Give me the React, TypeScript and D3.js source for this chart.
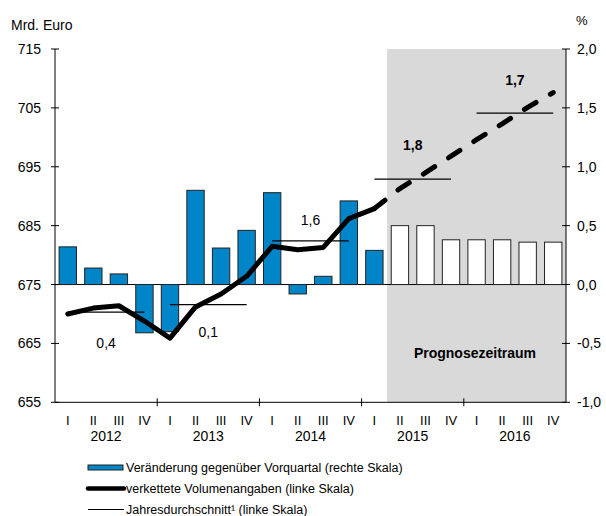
import * as d3 from "d3";
import React from "react";

// Quarter labels, years, and values
const years = ["2012", "2013", "2014", "2015", "2016"];
const quarterNames = ["I", "II", "III", "IV"];
const quarters = years.flatMap((y) => quarterNames.map((q) => `${q}-${y}`));

// Veränderung gegenüber Vorquartal (%), right scale
const changeQoQ = [
  0.32, 0.14, 0.09, -0.41, -0.4, 0.8, 0.31, 0.46, 0.78, -0.08, 0.07, 0.71,
  0.29, 0.5, 0.5, 0.38, 0.38, 0.38, 0.36, 0.36,
];
const forecastFrom = 13; // first forecast quarter (II 2015)

// verkettete Volumenangaben (Mrd. Euro), left scale
const volumeActual = [
  670.0, 671.0, 671.4, 668.8, 665.9, 671.2, 673.4, 676.4, 681.5, 680.9, 681.3,
  686.2, 687.9,
];
const volumeForecast = [687.9, 691.3, 694.0, 696.8, 699.6, 702.3, 705.1, 707.6];
const dashStart = 12; // I 2015

// Jahresdurchschnitt (left scale) and annual growth labels
const annualAvg = [670.3, 671.6, 682.4, 692.9, 704.1];
const annualGrowth = ["0,4", "0,1", "1,6", "1,8", "1,7"];
const annualBold = [false, false, false, true, true];
const labelDy = [31, 27, -21, -34, -33];

const leftTicks = [655, 665, 675, 685, 695, 705, 715];
const rightTicks = [-1, -0.5, 0, 0.5, 1, 1.5, 2];

const legendItems = [
  "Veränderung gegenüber Vorquartal (rechte Skala)",
  "verkettete Volumenangaben (linke Skala)",
  "Jahresdurchschnitt¹ (linke Skala)",
];

const W = 606;
const H = 516;
const FONT = "Liberation Sans, Arial, sans-serif";
const BLUE = "#0085c8";

export default function App(): React.ReactElement {
  const x0 = 55;
  const x1 = 566;
  const yTop = 49;
  const yBottom = 402.3;

  const x = d3
    .scaleBand<string>()
    .domain(quarters)
    .range([x0, x1])
    .paddingInner(0.32)
    .paddingOuter(0.16);
  const step = x.step();
  const cx = (i: number) => (x(quarters[i]) ?? 0) + x.bandwidth() / 2;

  const yL = d3.scaleLinear().domain([655, 715]).range([yBottom, yTop]);
  const yR = d3.scaleLinear().domain([-1, 2]).range([yBottom, yTop]);

  const line = d3
    .line<number>()
    .x((_, i) => cx(i))
    .y((d) => yL(d));
  const lineF = d3
    .line<number>()
    .x((_, i) => cx(i + dashStart))
    .y((d) => yL(d));

  const grayX = x0 + forecastFrom * step;

  return (
    <svg
      width={W}
      height={H}
      style={{ position: "absolute", left: 0, top: 0, background: "#fff" }}
      fontFamily={FONT}
    >
      {/* forecast region */}
      <rect x={grayX} y={yTop} width={x1 - grayX} height={yBottom - yTop} fill="#d9d9d9" />

      {/* zero line */}
      <line x1={x0} x2={x1} y1={yR(0)} y2={yR(0)} stroke="#000" strokeWidth={1} />

      {/* bars */}
      {changeQoQ.map((v, i) => (
        <rect
          key={`bar-${i}`}
          x={x(quarters[i])}
          width={x.bandwidth()}
          y={Math.min(yR(v), yR(0))}
          height={Math.abs(yR(v) - yR(0))}
          fill={i >= forecastFrom ? "#fff" : BLUE}
          stroke="#222"
          strokeWidth={1}
        />
      ))}

      {/* annual averages */}
      {annualAvg.map((v, i) => (
        <line
          key={`avg-${i}`}
          x1={cx(i * 4)}
          x2={cx(i * 4 + 3)}
          y1={yL(v)}
          y2={yL(v)}
          stroke="#000"
          strokeWidth={1.2}
        />
      ))}

      {/* volume line */}
      <path d={line(volumeActual) ?? ""} fill="none" stroke="#000" strokeWidth={5} strokeLinejoin="round" strokeLinecap="round" />
      <path
        d={lineF(volumeForecast) ?? ""}
        fill="none"
        stroke="#000"
        strokeWidth={5}
        strokeDasharray="13.5,16.5"
        strokeLinecap="round"
      />

      {/* annual growth labels */}
      {annualGrowth.map((t, i) => (
        <text
          key={`lab-${i}`}
          x={x0 + (i * 4 + 2) * step}
          y={yL(annualAvg[i]) + labelDy[i]}
          textAnchor="middle"
          dominantBaseline="central"
          fontSize={14}
          fontWeight={annualBold[i] ? "bold" : "normal"}
        >
          {t}
        </text>
      ))}

      <text x={475} y={353} textAnchor="middle" dominantBaseline="central" fontSize={14} fontWeight="bold">
        Prognosezeitraum
      </text>

      {/* left axis */}
      <line x1={x0} x2={x0} y1={yTop} y2={yBottom} stroke="#000" />
      {leftTicks.map((t) => (
        <g key={`lt-${t}`} transform={`translate(${x0},${yL(t)})`}>
          <line x1={-4} x2={4} stroke="#000" />
          <text x={-14} textAnchor="end" dominantBaseline="central" fontSize={14}>
            {t}
          </text>
        </g>
      ))}
      <text x={11} y={25} dominantBaseline="central" fontSize={14}>
        Mrd. Euro
      </text>

      {/* right axis */}
      <line x1={x1} x2={x1} y1={yTop} y2={yBottom} stroke="#000" />
      {rightTicks.map((t) => (
        <g key={`rt-${t}`} transform={`translate(${x1},${yR(t)})`}>
          <line x1={-4} x2={4} stroke="#000" />
          <text x={11} textAnchor="start" dominantBaseline="central" fontSize={14}>
            {t.toFixed(1).replace(".", ",")}
          </text>
        </g>
      ))}
      <text x={576} y={20} dominantBaseline="central" fontSize={13}>
        %
      </text>

      {/* bottom axis */}
      <line x1={x0} x2={x1} y1={yBottom} y2={yBottom} stroke="#000" />
      {years.map((y, i) =>
        i === 0 ? null : (
          <line
            key={`yt-${y}`}
            x1={x0 + i * 4 * step}
            x2={x0 + i * 4 * step}
            y1={yBottom - 4}
            y2={yBottom + 4}
            stroke="#000"
          />
        )
      )}
      {quarters.map((q, i) => (
        <text
          key={`q-${q}`}
          x={cx(i)}
          y={420}
          textAnchor="middle"
          dominantBaseline="central"
          fontSize={13}
        >
          {quarterNames[i % 4]}
        </text>
      ))}
      {years.map((y, i) => (
        <text
          key={`y-${y}`}
          x={x0 + (i * 4 + 2) * step}
          y={435.5}
          textAnchor="middle"
          dominantBaseline="central"
          fontSize={14}
        >
          {y}
        </text>
      ))}

      {/* legend */}
      <g transform="translate(88,0)">
        <rect x={0} y={465} width={35} height={5} fill={BLUE} stroke="#222" strokeWidth={1} />
        <line x1={0} x2={36} y1={488.5} y2={488.5} stroke="#000" strokeWidth={4.5} strokeLinecap="round" />
        <line x1={0} x2={36} y1={509.5} y2={509.5} stroke="#000" strokeWidth={1} />
        {legendItems.map((t, i) => (
          <text key={`leg-${i}`} x={38} y={467.5 + i * 21} dominantBaseline="central" fontSize={12.5}>
            {t}
          </text>
        ))}
      </g>
    </svg>
  );
}
